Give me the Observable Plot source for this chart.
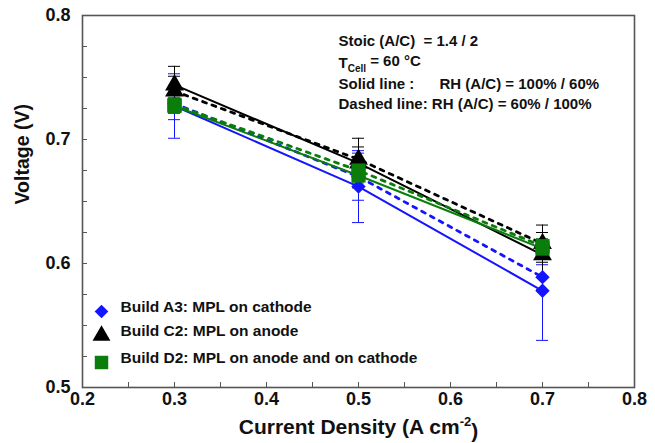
<!DOCTYPE html>
<html><head><meta charset="utf-8">
<script src="https://cdn.jsdelivr.net/npm/d3@7"></script>
<script src="https://cdn.jsdelivr.net/npm/@observablehq/plot@0.6"></script>
<style>
body{margin:0;background:#fff}
#chart svg{font-family:"Liberation Sans",Arial,sans-serif}
</style>
</head><body><div id="chart"></div>
<script>
// ---- data ----
const currentDensity = [0.3, 0.5, 0.7];
const builds = ["Build A3: MPL on cathode", "Build C2: MPL on anode", "Build D2: MPL on anode and on cathode"];
const buildColors = ["#1414ff", "#000000", "#0a7d0a"];
const buildSymbols = ["diamond2", "triangle", "square"];
// solid line: RH (A/C) = 100% / 60% ; dashed line: RH (A/C) = 60% / 100%
const a3Solid  = [0.727, 0.662, 0.578];
const a3Dashed = [0.729, 0.670, 0.589];
const c2Solid  = [0.744, 0.681, 0.607];
const c2Dashed = [0.739, 0.684, 0.616];
const d2Solid  = [0.727, 0.671, 0.612];
const d2Dashed = [0.728, 0.675, 0.614];
const a3SolidErr  = [0.026, 0.029, 0.040];
const a3DashedErr = [0.013, 0.019, 0.010];
const c2SolidErr  = [0.015, 0.020, 0.018];
const c2DashedErr = [0.012, 0.010, 0.015];
const d2SolidErr  = [0.006, 0.006, 0.006];
const d2DashedErr = [0.006, 0.006, 0.006];
const xTicks = [0.2, 0.3, 0.4, 0.5, 0.6, 0.7, 0.8];
const xMinorTicks = [0.25, 0.35, 0.45, 0.55, 0.65, 0.75];
const yTicks = [0.5, 0.6, 0.7, 0.8];
const yMinorTicks = [0.525, 0.55, 0.575, 0.625, 0.65, 0.675, 0.725, 0.75, 0.775];
const noteLines = ["Stoic (A/C)  = 1.4 / 2", "TCell = 60 °C", "Solid line :", "RH (A/C) = 100% / 60%", "Dashed line: RH (A/C) = 60% / 100%"];
const xLabel = "Current Density (A cm-2)";
const yLabel = "Voltage (V)";

// ---- table ----
const series = [
  [builds[0], "solid", a3Solid, a3SolidErr], [builds[0], "dashed", a3Dashed, a3DashedErr],
  [builds[1], "solid", c2Solid, c2SolidErr], [builds[1], "dashed", c2Dashed, c2DashedErr],
  [builds[2], "solid", d2Solid, d2SolidErr], [builds[2], "dashed", d2Dashed, d2DashedErr]
];
const rows = series.flatMap(([build, style, vals, errs]) =>
  currentDensity.map((x, i) => ({build, style, x, v: vals[i], lo: vals[i] - errs[i], hi: vals[i] + errs[i]})));
const of = (b, s) => rows.filter(d => d.build === b && (!s || d.style === s));

const marks = [];
// error bars
builds.forEach((b, i) => {
  const c = buildColors[i];
  marks.push(Plot.ruleX(of(b), {x: "x", y1: "lo", y2: "hi", stroke: c, strokeWidth: 1}));
  marks.push(Plot.ruleY(of(b), {x1: "x", x2: "x", y: "hi", insetLeft: -6, insetRight: -6, stroke: c, strokeWidth: 1}));
  marks.push(Plot.ruleY(of(b), {x1: "x", x2: "x", y: "lo", insetLeft: -6, insetRight: -6, stroke: c, strokeWidth: 1}));
});
// lines
builds.forEach((b, i) => {
  const c = buildColors[i];
  marks.push(Plot.line(of(b, "solid"), {x: "x", y: "v", stroke: c, strokeWidth: 2}));
  marks.push(Plot.line(of(b, "dashed"), {x: "x", y: "v", stroke: c, strokeWidth: 2.8, strokeDasharray: "4,6"}));
});
// markers
const radii = [6.5, 7, 8];
builds.forEach((b, i) => {
  marks.push(Plot.dot(of(b), {x: "x", y: "v", symbol: buildSymbols[i], fill: buildColors[i], r: radii[i], stroke: "none"}));
});
// legend inside frame
const legendDy = [-76, -52, -25];
builds.forEach((b, i) => {
  marks.push(Plot.dot([b], {frameAnchor: "bottom-left", dx: 19, dy: legendDy[i], symbol: buildSymbols[i], fill: buildColors[i], r: radii[i] * 0.95}));
  marks.push(Plot.text([b], {text: d => d, frameAnchor: "bottom-left", dx: 38, dy: legendDy[i], textAnchor: "start", fontSize: 15.5, fontWeight: "bold", fill: "#111"}));
});
// notes
const noteStyle = {frameAnchor: "top-left", textAnchor: "start", fontSize: 15, fontWeight: "bold", fill: "#111"};
marks.push(Plot.text([noteLines[0]], {...noteStyle, text: d => d, dx: 256, dy: 20}));
marks.push(Plot.text([noteLines[1]], {...noteStyle, text: d => d, dx: 256, dy: 42}));
marks.push(Plot.text([noteLines[2]], {...noteStyle, text: d => d, dx: 256, dy: 63}));
marks.push(Plot.text([noteLines[3]], {...noteStyle, text: d => d, dx: 357, dy: 63}));
marks.push(Plot.text([noteLines[4]], {...noteStyle, text: d => d, dx: 256, dy: 83}));
// axes
marks.push(Plot.axisY({ticks: [...yTicks, ...yMinorTicks], tickSize: 5, dx: 5, tickFormat: () => "", label: null, stroke: "#555"}));
marks.push(Plot.axisY({ticks: yTicks, tickSize: 0, tickPadding: 12, tickFormat: d => d.toFixed(1), label: null, fontSize: 18, fontWeight: "bold", fill: "#111"}));
marks.push(Plot.axisX({ticks: [...xTicks, ...xMinorTicks], tickSize: 5, dy: -5, tickFormat: () => "", label: null, stroke: "#555"}));
marks.push(Plot.axisX({ticks: xTicks, tickSize: 0, tickPadding: 5, tickFormat: d => d.toFixed(1), label: null, fontSize: 18, fontWeight: "bold", fill: "#111"}));
marks.push(Plot.frame({stroke: "#555", strokeWidth: 1.6}));
marks.push(Plot.text([yLabel], {text: d => d, frameAnchor: "left", dx: -60, dy: 3, rotate: -90, fontSize: 19.5, fontWeight: "bold", fill: "#111"}));
marks.push(Plot.text([xLabel], {text: d => d, frameAnchor: "bottom", dy: 46, fontSize: 21, fontWeight: "bold", fill: "#111"}));

const chart = Plot.plot({
  width: 655, height: 443,
  marginLeft: 82, marginRight: 21, marginTop: 15, marginBottom: 56,
  x: {domain: [0.2, 0.8]},
  y: {domain: [0.5, 0.8]},
  marks
});
document.getElementById("chart").append(chart);

// rich text: subscript / superscript
d3.select(chart).selectAll("text").filter(function(){ return this.textContent === noteLines[1]; }).each(function(){
  const t = d3.select(this); t.text("");
  t.append("tspan").text("T");
  t.append("tspan").attr("font-size", 10).attr("dy", "0.35em").text("Cell");
  t.append("tspan").attr("dy", "-0.35em").attr("font-size", 15).text(" = 60 °C");
});
d3.select(chart).selectAll("text").filter(function(){ return this.textContent === xLabel; }).each(function(){
  const t = d3.select(this); t.text("");
  t.append("tspan").text("Current Density (A cm");
  t.append("tspan").attr("font-size", 13).attr("dy", "-0.55em").text("-2");
  t.append("tspan").attr("dy", "0.55em").attr("font-size", 21).text(")");
});
</script>
</body></html>
